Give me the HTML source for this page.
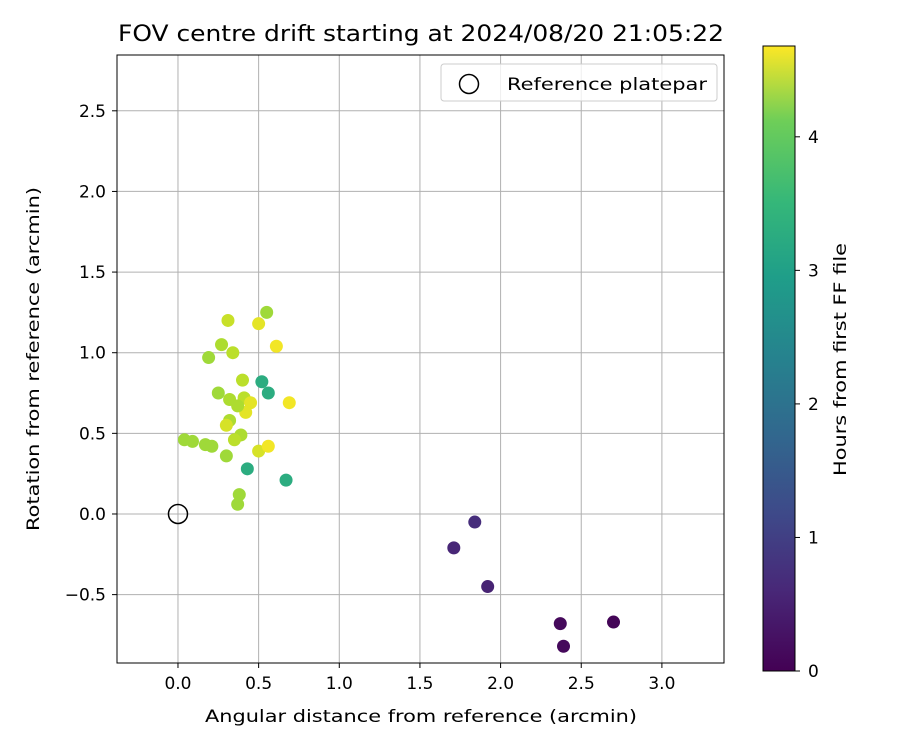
<!DOCTYPE html>
<html><head><meta charset="utf-8"><style>
body{margin:0;background:#fff;font-family:"Liberation Sans","DejaVu Sans",sans-serif}
svg text{font-family:"DejaVu Sans","Liberation Sans",sans-serif;fill:#000}
</style></head><body>
<svg id="c" width="900" height="750" xmlns="http://www.w3.org/2000/svg">
<defs><linearGradient id="vg" x1="0" y1="1" x2="0" y2="0">
<stop offset="0" stop-color="#440154"/><stop offset="0.13" stop-color="#482878"/><stop offset="0.25" stop-color="#3e4989"/><stop offset="0.38" stop-color="#31688e"/><stop offset="0.5" stop-color="#26828e"/><stop offset="0.63" stop-color="#1f9e89"/><stop offset="0.75" stop-color="#35b779"/><stop offset="0.88" stop-color="#6ece58"/><stop offset="1" stop-color="#fde725"/></linearGradient></defs>
<g id="g"></g>
</svg>
<script>
const xs=[2.70,2.37,2.39,1.84,1.71,1.92,0.52,0.56,0.43,0.67,0.55,0.50,0.31,0.27,0.19,0.34,0.61,0.40,0.25,0.69,0.32,0.41,0.45,0.42,0.32,0.30,0.39,0.35,0.04,0.09,0.17,0.21,0.50,0.56,0.30,0.38,0.37,0.37];
const ys=[-0.67,-0.68,-0.82,-0.05,-0.21,-0.45,0.82,0.75,0.28,0.21,1.25,1.18,1.20,1.05,0.97,1.00,1.04,0.83,0.75,0.69,0.71,0.72,0.69,0.63,0.58,0.55,0.49,0.46,0.46,0.45,0.43,0.42,0.39,0.42,0.36,0.12,0.06,0.67];
const hours=[0.05,0.1,0.1,0.6,0.5,0.45,2.9,2.9,2.9,2.9,4.0,4.5,4.3,4.1,4.0,4.2,4.6,4.2,4.0,4.6,4.1,4.2,4.5,4.5,4.1,4.4,4.1,4.2,4.0,4.0,4.0,4.0,4.4,4.6,4.0,4.0,4.0,4.1];
const xTicks=[0,0.5,1,1.5,2,2.5,3];
const yTicks=[-0.5,0,0.5,1,1.5,2,2.5];
const cTicks=[0,1,2,3,4];
const L=117,R=724,T=55,B=663,x0=-0.378,x1=3.385,y0=-0.924,y1=2.846,hMax=4.68;
const X=v=>L+(v-x0)/(x1-x0)*(R-L), Y=v=>B-(v-y0)/(y1-y0)*(B-T);
const CT=46,CB=671,CY=h=>CB-h/hMax*(CB-CT);
const vir=[[68,1,84],[72,40,120],[62,73,137],[49,104,142],[38,130,142],[31,158,137],[53,183,121],[110,206,88],[181,222,43],[253,231,37]];
function col(h){let t=Math.max(0,Math.min(1,h/hMax))*(vir.length-1),i=Math.min(Math.floor(t),vir.length-2),f=t-i;return 'rgb('+vir[i].map((c,k)=>Math.round(c+(vir[i+1][k]-c)*f)).join(',')+')';}
const g=document.getElementById('g');const NS='http://www.w3.org/2000/svg';
function mk(t,a,p){const e=document.createElementNS(NS,t);for(const k in a)e.setAttribute(k,a[k]);(p||g).appendChild(e);return e;}
xTicks.forEach(v=>{const x=X(v);
const l=mk('line',{x1:x,x2:x,y1:T,y2:B,stroke:'#b0b0b0','stroke-width':1});


mk('line',{x1:x,x2:x,y1:B,y2:B+5,stroke:'#000'});
const t=mk('text',{x:x,y:B+26,'text-anchor':'middle','font-size':17});t.textContent=v.toFixed(1);

});
yTicks.forEach(v=>{const y=Y(v);
const l=mk('line',{x1:L,x2:R,y1:y,y2:y,stroke:'#b0b0b0','stroke-width':1});


mk('line',{x1:L-5,x2:L,y1:y,y2:y,stroke:'#000'});
const t=mk('text',{x:L-11,y:y+6,'text-anchor':'end','font-size':17});t.textContent=(v<0?'\u2212':'')+Math.abs(v).toFixed(1);

});
xs.forEach((v,i)=>{const c=mk('circle',{cx:X(v),cy:Y(ys[i]),r:6.5,fill:col(hours[i])});

});
const ref=mk('circle',{cx:X(0),cy:Y(0),r:9.5,fill:'none',stroke:'#000','stroke-width':1.5});


mk('rect',{x:L,y:T,width:R-L,height:B-T,fill:'none',stroke:'#000','stroke-width':1});
const lg=mk('g',{});
mk('rect',{x:441,y:64,width:276,height:37,rx:3,fill:'#fff','fill-opacity':0.8,stroke:'#ccc'},lg);
mk('circle',{cx:469,cy:84,r:9.5,fill:'none',stroke:'#000','stroke-width':1.5},lg);
mk('text',{x:507,y:90,'font-size':17,textLength:200,lengthAdjust:'spacingAndGlyphs'},lg).textContent='Reference platepar';
const tt=mk('text',{x:118,y:41,'font-size':22,textLength:606,lengthAdjust:'spacingAndGlyphs'});tt.textContent='FOV centre drift starting at 2024/08/20 21:05:22';

const xl=mk('text',{x:205,y:722,'font-size':17,textLength:432,lengthAdjust:'spacingAndGlyphs'});xl.textContent='Angular distance from reference (arcmin)';

const yl=mk('text',{x:0,y:0,'font-size':17,textLength:344,lengthAdjust:'spacingAndGlyphs',transform:'translate(39 531) rotate(-90)'});yl.textContent='Rotation from reference (arcmin)';

const cb=mk('rect',{x:763,y:CT,width:32,height:CB-CT,fill:'url(#vg)',stroke:'#000'});

cTicks.forEach(v=>{const y=CY(v);mk('line',{x1:795,x2:800,y1:y,y2:y,stroke:'#000'});
const t=mk('text',{x:808,y:y+6,'font-size':17});t.textContent=v;
});
const cl=mk('text',{x:0,y:0,'font-size':17,textLength:233,lengthAdjust:'spacingAndGlyphs',transform:'translate(846 476) rotate(-90)'});cl.textContent='Hours from first FF file';

</script>
</body></html>
